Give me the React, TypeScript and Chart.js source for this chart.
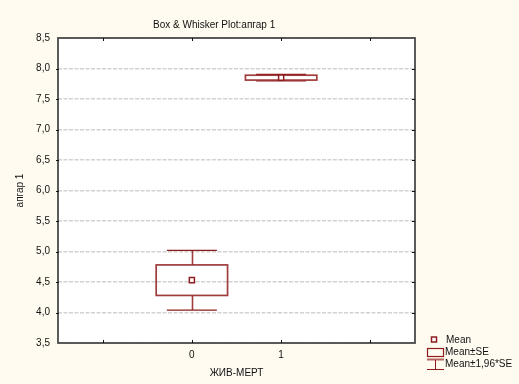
import { useEffect, useRef } from 'react';
import { Chart, registerables } from 'chart.js';

Chart.register(...registerables);

// ---- data ----
const categories = [0, 1];
const categoryLabels = ['0', '1'];
const means = [4.53, 7.85];
const seLow = [4.28, 7.81];
const seHigh = [4.78, 7.89];
const ciLow = [4.04, 7.795];
const ciHigh = [5.02, 7.905];
const xTickValues = [-1, 0, 1, 2];
const yMin = 3.5;
const yMax = 8.5;
const yStep = 0.5;

const titleText = 'Box & Whisker Plot:апгар 1';
const xTitle = 'ЖИВ-МЕРТ';
const yTitle = 'апгар 1';
const legendLabels = ['Mean', 'Mean±SE', 'Mean±1,96*SE'];

const FONT = '"Liberation Sans", Arial, sans-serif';
const RED = '#8E1C1C';
const BOX_RED = 'rgba(150,40,40,0.9)';
const BG = '#FFFBF0';

const boxPlugin = {
  id: 'boxwhisker',
  beforeDraw(chart: any) {
    const { ctx, chartArea } = chart;
    ctx.save();
    ctx.fillStyle = BG;
    ctx.fillRect(0, 0, chart.width, chart.height);
    ctx.fillStyle = '#ffffff';
    ctx.fillRect(chartArea.left, chartArea.top, chartArea.right - chartArea.left, chartArea.bottom - chartArea.top);
    ctx.restore();
  },
  beforeDatasetsDraw(chart: any) {
    const { ctx } = chart;
    const xs = chart.scales.x;
    const ys = chart.scales.y;
    ctx.save();
    categories.forEach((c, i) => {
      const cx = Math.round(xs.getPixelForValue(c)) + 0.5;
      const bl = xs.getPixelForValue(c - 0.4);
      const br = xs.getPixelForValue(c + 0.4);
      const wl = xs.getPixelForValue(c - 0.28);
      const wr = xs.getPixelForValue(c + 0.28);
      const yBoxTop = ys.getPixelForValue(seHigh[i]);
      const yBoxBot = ys.getPixelForValue(seLow[i]);
      const yWTop = ys.getPixelForValue(ciHigh[i]);
      const yWBot = ys.getPixelForValue(ciLow[i]);
      // whisker stems
      ctx.strokeStyle = BOX_RED;
      ctx.lineWidth = 1.6;
      ctx.beginPath();
      ctx.moveTo(cx, yWTop);
      ctx.lineTo(cx, yBoxTop);
      ctx.moveTo(cx, yBoxBot);
      ctx.lineTo(cx, yWBot);
      ctx.stroke();
      // caps
      ctx.strokeStyle = RED;
      ctx.lineWidth = 1.2;
      ctx.beginPath();
      ctx.moveTo(wl, yWTop);
      ctx.lineTo(wr, yWTop);
      ctx.moveTo(wl, yWBot);
      ctx.lineTo(wr, yWBot);
      ctx.stroke();
      // box
      ctx.strokeStyle = BOX_RED;
      ctx.lineWidth = 1.7;
      ctx.strokeRect(bl, yBoxTop, br - bl, yBoxBot - yBoxTop);
    });
    ctx.restore();
  },
  afterDraw(chart: any) {
    const { ctx, chartArea } = chart;
    const xs = chart.scales.x;
    const ys = chart.scales.y;
    const { left, right, top, bottom } = chartArea;
    ctx.save();
    // frame
    ctx.strokeStyle = '#4a4a4a';
    ctx.lineWidth = 1.8;
    ctx.strokeRect(left, top, right - left, bottom - top);
    // inward ticks
    ctx.strokeStyle = '#111111';
    ctx.lineWidth = 1;
    ctx.beginPath();
    xTickValues.forEach((v) => {
      const px = Math.round(xs.getPixelForValue(v)) + 0.5;
      ctx.moveTo(px, top);
      ctx.lineTo(px, top + 3);
      ctx.moveTo(px, bottom);
      ctx.lineTo(px, bottom - 3);
    });
    for (let v = yMin + yStep; v < yMax - 1e-9; v += yStep) {
      const py = Math.round(ys.getPixelForValue(v)) + 0.5;
      ctx.moveTo(left - 2, py);
      ctx.lineTo(left + 1, py);
      ctx.moveTo(right, py);
      ctx.lineTo(right - 3, py);
    }
    ctx.stroke();

    // title
    ctx.fillStyle = '#111111';
    ctx.font = `10px ${FONT}`;
    ctx.textAlign = 'left';
    ctx.textBaseline = 'alphabetic';
    ctx.fillText(titleText, 153, 27.5);

    // legend
    const lx = right + 12;
    // mean marker
    ctx.fillStyle = '#ffffff';
    ctx.strokeStyle = RED;
    ctx.lineWidth = 1.5;
    ctx.fillRect(lx + 4.5, 337, 5, 5);
    ctx.strokeRect(lx + 4.5, 337, 5, 5);
    // box icon
    ctx.lineWidth = 1.2;
    ctx.strokeRect(lx + 0.5, 348.5, 16, 8);
    // whisker icon
    ctx.strokeStyle = 'rgba(170,70,70,0.85)';
    ctx.lineWidth = 2;
    ctx.beginPath();
    ctx.moveTo(lx, 359.5);
    ctx.lineTo(lx + 17, 359.5);
    ctx.stroke();
    ctx.strokeStyle = RED;
    ctx.lineWidth = 1;
    ctx.beginPath();
    ctx.moveTo(lx + 8.5, 360);
    ctx.lineTo(lx + 8.5, 369);
    ctx.moveTo(lx, 369.5);
    ctx.lineTo(lx + 17, 369.5);
    ctx.stroke();

    ctx.fillStyle = '#111111';
    ctx.font = `10px ${FONT}`;
    ctx.textBaseline = 'middle';
    ctx.fillText(legendLabels[0], lx + 19, 340);
    ctx.fillText(legendLabels[1], lx + 18, 352);
    ctx.fillText(legendLabels[2], lx + 18, 364);
    ctx.restore();
  },
};

export default function App() {
  const ref = useRef<HTMLCanvasElement | null>(null);
  useEffect(() => {
    document.body.style.margin = '0';
    if (!ref.current) return;
    const chart = new Chart(ref.current, {
      type: 'scatter',
      data: {
        datasets: [
          {
            label: 'Mean',
            data: categories.map((c, i) => ({ x: c, y: means[i] })),
            pointStyle: 'rect',
            pointRadius: 3.6,
            pointHoverRadius: 3.6,
            pointBackgroundColor: '#ffffff',
            pointBorderColor: RED,
            pointBorderWidth: 1.5,
          },
        ],
      },
      options: {
        animation: false,
        responsive: false,
        devicePixelRatio: 1,
        events: [],
        layout: { padding: { left: 0, right: 104, top: 38, bottom: 0 } },
        plugins: {
          legend: { display: false },
          title: { display: false },
          tooltip: { enabled: false },
        },
        scales: {
          x: {
            type: 'linear',
            min: -1.5,
            max: 2.5,
            afterFit(scale: any) {
              scale.height = 41;
            },
            afterBuildTicks(scale: any) {
              scale.ticks = xTickValues.map((v) => ({ value: v }));
            },
            grid: { display: false, drawTicks: false },
            border: { display: false },
            ticks: {
              padding: 6,
              color: '#111111',
              font: { family: FONT, size: 10 },
              callback: (v: any) => {
                const idx = categories.indexOf(Number(v));
                return idx >= 0 ? categoryLabels[idx] : '';
              },
            },
            title: {
              display: true,
              text: xTitle,
              color: '#111111',
              font: { family: FONT, size: 10 },
              padding: { top: 0, bottom: 5 },
            },
          },
          y: {
            type: 'linear',
            min: yMin,
            max: yMax,
            afterFit(scale: any) {
              scale.width = 58;
            },
            grid: {
              display: true,
              drawTicks: false,
              color: '#d2d2d2',
              lineWidth: 1.5,
            },
            border: { display: false, dash: [4, 1.5] },
            ticks: {
              stepSize: yStep,
              padding: 8,
              color: '#111111',
              font: { family: FONT, size: 10 },
              callback: (v: any) => Number(v).toFixed(1).replace('.', ','),
            },
            title: {
              display: true,
              text: yTitle,
              color: '#111111',
              font: { family: FONT, size: 10 },
              padding: { top: 14, bottom: 0 },
            },
          },
        },
      },
      plugins: [boxPlugin],
    });
    return () => chart.destroy();
  }, []);
  return (
    <div style={{ width: 519, height: 384, background: BG }}>
      <canvas ref={ref} width={519} height={384} style={{ display: 'block', width: 519, height: 384 }} />
    </div>
  );
}
